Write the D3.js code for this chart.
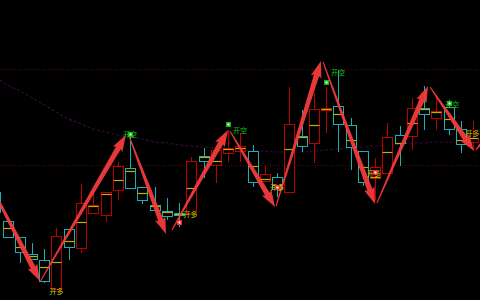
<!DOCTYPE html>
<html>
<head>
<meta charset="utf-8">
<script src="https://cdn.jsdelivr.net/npm/d3@7"></script>
<style>
html, body { margin: 0; padding: 0; background: #000; overflow: hidden; }
</style>
</head>
<body>
<svg id="chart" width="480" height="300"></svg>
<script>
// K-line data, one entry per bar (bar 0 is cut off on the left edge)
const opens  = [4008,3979,3963,3946,3940,3911,3971,3952,3987,3985,4010,4032,4013,3995,3989,3987,3987,4044,4035,4047,
                4049,4049,4019,4023,4008,4064,4057,4090,4094,4075,4049,4022,4027,4065,4064,4092,4082,4093,4071,4058];
const highs  = [4010,3979,3963,3957,3951,3972,3971,4016,4008,4008,4038,4067,4013,4013,4002,3997,4043,4052,4050,4070,
                4067,4055,4034,4027,4113,4090,4107,4113,4130,4082,4049,4042,4077,4074,4102,4114,4103,4100,4079,4079];
const lows   = [3985,3962,3937,3941,3917,3911,3940,3947,3987,3978,4000,4012,3996,3990,3980,3973,3987,4022,4017,4038,
                4038,4013,4019,4003,4008,4048,4037,4067,4048,4030,4014,4000,4027,4034,4050,4070,4070,4065,4047,4050];
const closes = [3988,3963,3948,3941,3919,3964,3953,3997,3995,4008,4034,4012,4000,3990,3984,3985,4039,4039,4050,4052,
                4054,4018,4026,4011,4076,4054,4091,4092,4076,4053,4018,4033,4063,4057,4092,4086,4089,4071,4056,4062];
// yellow average-price tick inside each bar
const avgs   = [3995,3972,3953,3944,3933,3938,3959,3978,3994,4006,4020,4029,4007,3994,3988,3986,4012,4043,4039,4051,
                4052,4034,4021,4015,4051,4063,4075,4091,4086,4060,4033,4023,4048,4057,4077,4091,4088,4081,4060,4062];
// slow moving average (purple dashed)
const maVals = [4123,4115,4109,4102,4095,4088,4081,4076,4071,4068,4065,4063,4061,4058,4057,4055,4054,4053,4052,4051,
                4050,4049,4049,4048,4048,4048,4049,4050,4051,4052,4053,4054,4055,4056,4057,4057,4058,4058,4057,4056];

// horizontal reference levels (dark red dotted)
const levels = [4131, 4035];

// trade signals: bar index, kind, marker price
const sigBars   = [5, 11, 15, 19, 23, 27, 31, 37, 39];
const sigKinds  = ['long','short','long','short','long','short','long','short','long'];
const sigPrices = [3909, 4066, 3978, 4076, 4013, 4118, 4028, 4097, 4067];
const sigDots   = [false, true, true, true, true, true, true, true, false];
const sigLabels = { long: '开多', short: '开空' };

// zigzag swing arrows: [bar, price] -> [bar, price]
const swingFrom = [[-1.24,4035],[3.65,3918],[10.92,4064],[14.43,3970],[19.16,4069],[22.92,3994],[26.76,4138],[31.16,3997],[35.49,4113],[39.24,4050]];
const swingTo   = [[3.65,3919],[10.67,4065],[13.94,3966],[19.0,4070],[22.84,3993],[26.59,4139],[31.0,3996],[35.33,4114],[39.08,4049],[41.2,4080]];

const width = 480, height = 300;
const svg = d3.select('#chart');
svg.append('rect').attr('width', width).attr('height', height).attr('fill', '#000');

const x = d3.scaleLinear().domain([0, 39]).range([-4.75, 473]);
const y = d3.scaleLinear().domain([4200, 3900]).range([0, height]);

const bars = d3.range(opens.length).map(i => ({
    i, open: opens[i], high: highs[i], low: lows[i], close: closes[i], avg: avgs[i]
}));

const UP = '#bc0000', DOWN = '#19b0b0', AVG = '#c2b000';
const px = v => Math.round(v) + 0.5;

// reference levels
svg.selectAll('.level')
    .data(levels)
    .enter()
    .append('line')
    .attr('class', 'level')
    .attr('x1', 0).attr('x2', width)
    .attr('y1', d => px(y(d))).attr('y2', d => px(y(d)))
    .attr('stroke', '#5e0a0a')
    .attr('stroke-width', 1)
    .attr('stroke-dasharray', '1,2');

// moving average
const maLine = d3.line()
    .x((d, i) => x(i))
    .y(d => y(d))
    .curve(d3.curveMonotoneX);
svg.append('path')
    .datum(maVals)
    .attr('d', maLine)
    .attr('fill', 'none')
    .attr('stroke', '#35093a')
    .attr('stroke-width', 1.2)
    .attr('stroke-dasharray', '3,2');

// candles
const candle = svg.selectAll('.candle')
    .data(bars)
    .enter()
    .append('g')
    .attr('class', 'candle');

candle.append('line')
    .attr('x1', d => px(x(d.i))).attr('x2', d => px(x(d.i)))
    .attr('y1', d => y(d.high)).attr('y2', d => y(d.low))
    .attr('stroke', d => d.close >= d.open ? UP : DOWN)
    .attr('stroke-width', 1);

candle.append('rect')
    .attr('x', d => px(x(d.i) - 5))
    .attr('y', d => px(y(Math.max(d.open, d.close))))
    .attr('width', 10)
    .attr('height', d => Math.max(1, Math.round(Math.abs(y(d.open) - y(d.close)))))
    .attr('fill', '#000')
    .attr('stroke', d => d.close >= d.open ? UP : DOWN)
    .attr('stroke-width', 1);

candle.append('line')
    .attr('x1', d => px(x(d.i) - 5)).attr('x2', d => px(x(d.i) + 5))
    .attr('y1', d => px(y(d.avg))).attr('y2', d => px(y(d.avg)))
    .attr('stroke', AVG)
    .attr('stroke-width', 1.2);

// swing arrows
function arrowPath(x1, y1, x2, y2) {
    const dx = x2 - x1, dy = y2 - y1, len = Math.hypot(dx, dy);
    const ux = dx / len, uy = dy / len, nx = -uy, ny = ux;
    const head = 15, hw = 5.5, w0 = 0.5, w1 = 2.7;
    const bx = x2 - ux * head, by = y2 - uy * head;
    const pts = [
        [x1 + nx * w0, y1 + ny * w0],
        [bx + nx * w1, by + ny * w1],
        [bx + nx * hw - ux * 1.5, by + ny * hw - uy * 1.5],
        [x2, y2],
        [bx - nx * hw - ux * 1.5, by - ny * hw - uy * 1.5],
        [bx - nx * w1, by - ny * w1],
        [x1 - nx * w0, y1 - ny * w0]
    ];
    return 'M' + pts.map(p => p[0].toFixed(2) + ',' + p[1].toFixed(2)).join('L') + 'Z';
}

svg.selectAll('.swing')
    .data(swingFrom.map((s, i) => ({ from: s, to: swingTo[i] })))
    .enter()
    .append('path')
    .attr('class', 'swing')
    .attr('d', d => arrowPath(x(d.from[0]), y(d.from[1]), x(d.to[0]), y(d.to[1])))
    .attr('fill', '#f23b3b')
    .attr('opacity', 0.95);

// signal markers and labels
const labelDx = [0, 0, 11.5, 12, 0, 12, -1, 3.5, 0];
const labelDy = [0, 0, -8, 6, 0, -10, 1, 1, 0];
const signals = sigBars.map((b, k) => ({
    b, kind: sigKinds[k], price: sigPrices[k], dot: sigDots[k], dx: labelDx[k], dy: labelDy[k]
}));

const sig = svg.selectAll('.signal')
    .data(signals)
    .enter()
    .append('g')
    .attr('class', 'signal');

// the last label is pinned inside the right edge so it stays readable
sig.append('text')
    .attr('x', (d, k) => k === signals.length - 1 ? width - 0.5 : x(d.b) + d.dx)
    .attr('y', d => y(d.price) + d.dy)
    .attr('text-anchor', (d, k) => k === signals.length - 1 ? 'end' : 'middle')
    .attr('dominant-baseline', 'central')
    .attr('font-family', '"Noto Sans CJK SC", sans-serif')
    .attr('font-size', 7)
    .attr('fill', d => d.kind === 'long' ? '#c8c400' : '#10c010')
    .text(d => sigLabels[d.kind]);

const dots = sig.filter(d => d.dot);
dots.append('rect')
    .attr('x', d => Math.round(x(d.b)) - 2)
    .attr('y', d => Math.round(y(d.price)) - 2)
    .attr('width', 5).attr('height', 5)
    .attr('fill', d => d.kind === 'long' ? '#ff2a2a' : '#10b810');
dots.append('rect')
    .attr('x', d => Math.round(x(d.b)) - 0.5)
    .attr('y', d => Math.round(y(d.price)) - 0.5)
    .attr('width', 2).attr('height', 2)
    .attr('fill', '#fff');
</script>
</body>
</html>
